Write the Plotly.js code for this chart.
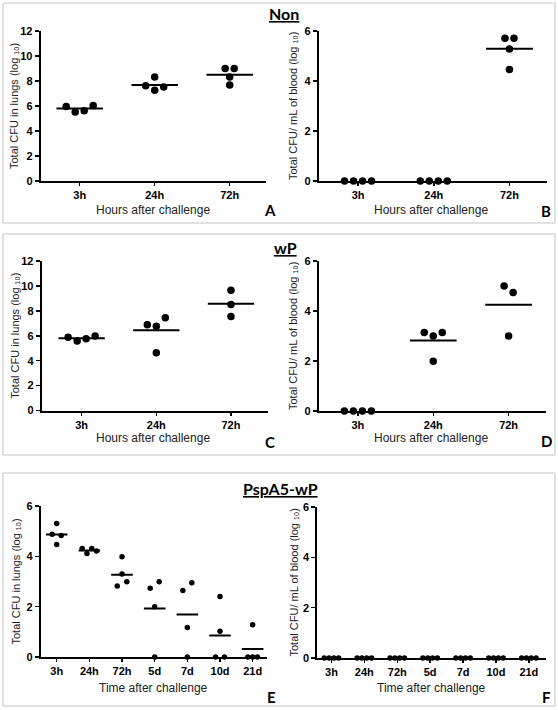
<!DOCTYPE html>
<html><head><meta charset="utf-8">
<script src="https://cdn.plot.ly/plotly-3.0.1.min.js"></script>
<style>html,body{margin:0;padding:0;background:#fff}#chart{width:558px;height:710px}</style>
</head><body><div id="chart"></div>
<script>
// ---------------- data ----------------
const hoursCats = ['3h', '24h', '72h'];
const timeCats = ['3h', '24h', '72h', '5d', '7d', '10d', '21d'];

const groupTitles = ['Non', 'wP', 'PspA5-wP'];
const panelLetters = ['A', 'B', 'C', 'D', 'E', 'F'];
const lungTitle = 'Total CFU in lungs (log \u2081\u2080)';
const bloodTitle = 'Total CFU/ mL of blood (log \u2081\u2080)';
const hoursTitle = 'Hours after challenge';
const timeTitle = 'Time after challenge';

// values per category (listed left to right as seen in each column)
const nonLungs = [[5.97, 5.52, 5.63, 6.05], [8.33, 7.63, 7.26, 7.53], [9.0, 9.0, 8.33, 7.69]];
const nonBlood = [[0, 0, 0, 0], [0, 0, 0, 0], [5.71, 5.71, 5.28, 4.46]];
const wpLungs = [[5.87, 5.57, 5.76, 5.97], [6.88, 6.77, 7.44, 4.64], [9.65, 8.51, 7.55]];
const wpBlood = [[0, 0, 0, 0], [3.14, 3.0, 3.14, 1.99], [5.0, 4.74, 3.0]];
const pspLungs = [[4.88, 5.30, 4.83, 4.47], [4.31, 4.11, 4.31, 4.21], [2.82, 3.98, 3.30, 2.99],
                  [2.73, 2.0, 0, 2.99], [2.64, 1.17, 0, 2.95], [0, 2.40, 1.02, 0], [0, 1.28, 0, 0]];
const pspBlood = [[0, 0, 0, 0], [0, 0, 0, 0], [0, 0, 0, 0], [0, 0, 0, 0], [0, 0, 0, 0], [0, 0, 0, 0], [0, 0, 0, 0]];

// ---------------- layout helpers ----------------
const W = 558, H = 710;
const fx = p => p / W;
const fy = p => 1 - p / H;

const bigStyle = {marker: 7.5, spacing: 9, compact: 9, maxSpan: 100, threshold: 7.5, half: 0.31};
const smallStyle = {marker: 5.5, spacing: 9, compact: 4.8, maxSpan: 10, threshold: 8.2, half: 0.33};

const panels = [
  {cats: hoursCats, vals: nonLungs, ymax: 12, xPx: [40.7, 265.7], yPx: [31, 181], xr: [-0.52, 2.48], yt: lungTitle, xt: hoursTitle, st: bigStyle, ytx: 14},
  {cats: hoursCats, vals: nonBlood, ymax: 6, xPx: [318.7, 547.3], yPx: [31, 181], xr: [-0.52, 2.5], yt: bloodTitle, xt: hoursTitle, st: bigStyle, ytx: 293},
  {cats: hoursCats, vals: wpLungs, ymax: 12, xPx: [41.7, 268.3], yPx: [261, 410.5], xr: [-0.535, 2.5], yt: lungTitle, xt: hoursTitle, st: bigStyle, ytx: 15},
  {cats: hoursCats, vals: wpBlood, ymax: 6, xPx: [318.7, 546.3], yPx: [261, 411], xr: [-0.52, 2.5], yt: bloodTitle, xt: hoursTitle, st: bigStyle, ytx: 293},
  {cats: timeCats, vals: pspLungs, ymax: 6, xPx: [40.7, 266.7], yPx: [506, 657], xr: [-0.49, 6.43], yt: lungTitle, xt: timeTitle, st: smallStyle, ytx: 15},
  {cats: timeCats, vals: pspBlood, ymax: 6, xPx: [317.3, 546.3], yPx: [507, 658], xr: [-0.43, 6.53], yt: bloodTitle, xt: timeTitle, st: smallStyle, ytx: 293}
];

function swarmOffsets(vals, pxPerUnit, pxPerCat, st) {
  const idx = vals.map((v, i) => i).sort((a, b) => (vals[b] - vals[a]) || (a - b));
  const groups = [];
  let cur = [];
  idx.forEach((i, k) => {
    if (k === 0) { cur = [i]; return; }
    const prev = idx[k - 1];
    if ((vals[prev] - vals[i]) * pxPerUnit <= st.threshold) cur.push(i);
    else { groups.push(cur); cur = [i]; }
  });
  if (cur.length) groups.push(cur);
  const off = new Array(vals.length).fill(0);
  groups.forEach(g => {
    g.sort((a, b) => a - b);
    const n = g.length;
    const sp = (n - 1) * st.spacing <= st.maxSpan ? st.spacing : st.compact;
    g.forEach((i, k) => { off[i] = (k - (n - 1) / 2) * sp / pxPerCat; });
  });
  return off;
}

const tickFont = {family: 'Liberation Sans, Arial, sans-serif', size: 11, color: '#000', weight: 'bold'};
const titleFont = {family: 'Liberation Sans, Arial, DejaVu Sans, sans-serif', size: 11, color: '#222'};
const xTitleFont = {family: 'Liberation Sans, Arial, sans-serif', size: 12, color: '#222'};

const traces = [];
const layout = {
  width: W, height: H, margin: {l: 0, r: 0, t: 0, b: 0},
  paper_bgcolor: '#fff', plot_bgcolor: 'rgba(0,0,0,0)', showlegend: false,
  annotations: [], shapes: []
};

panels.forEach((p, k) => {
  const n = k + 1;
  const xa = 'x' + (n > 1 ? n : ''), ya = 'y' + (n > 1 ? n : '');
  const xk = 'xaxis' + (n > 1 ? n : ''), yk = 'yaxis' + (n > 1 ? n : '');
  const pxPerCat = (p.xPx[1] - p.xPx[0]) / (p.xr[1] - p.xr[0]);
  const pxPerUnit = (p.yPx[1] - p.yPx[0]) / p.ymax;
  const xs = [], ys = [], lx = [], ly = [];
  p.vals.forEach((col, ci) => {
    const off = swarmOffsets(col, pxPerUnit, pxPerCat, p.st);
    col.forEach((v, j) => { xs.push(ci + off[j]); ys.push(v); });
    const m = col.reduce((a, b) => a + b, 0) / col.length;
    if (m > 0) {           // a zero mean lies under the axis line
      lx.push(ci - p.st.half, ci + p.st.half, null);
      ly.push(m, m, null);
    }
  });
  traces.push({type: 'scatter', mode: 'lines', x: lx, y: ly, xaxis: xa, yaxis: ya,
    line: {color: '#000', width: 2}, hoverinfo: 'skip', cliponaxis: false});
  traces.push({type: 'scatter', mode: 'markers', x: xs, y: ys, xaxis: xa, yaxis: ya,
    marker: {color: '#000', size: p.st.marker}, cliponaxis: false});

  layout[xk] = {
    domain: [fx(p.xPx[0]), fx(p.xPx[1])], range: p.xr, anchor: ya,
    tickmode: 'array', tickvals: p.cats.map((c, i) => i), ticktext: p.cats,
    showline: true, linecolor: '#000', linewidth: 2, ticks: 'outside', ticklen: 3, tickwidth: 1.5, tickcolor: '#000',
    showgrid: false, zeroline: false, tickfont: tickFont, fixedrange: true
  };
  layout[yk] = {
    domain: [fy(p.yPx[1]), fy(p.yPx[0])], range: [0, p.ymax], anchor: xa,
    tick0: 0, dtick: 2,
    showline: true, linecolor: '#000', linewidth: 2, ticks: 'outside', ticklen: 4, tickwidth: 1.5, tickcolor: '#000',
    showgrid: false, zeroline: false, tickfont: tickFont, fixedrange: true
  };
  layout.annotations.push({xref: 'paper', yref: 'paper', x: fx(p.ytx), y: fy((p.yPx[0] + p.yPx[1]) / 2),
    text: p.yt, textangle: -90, showarrow: false, xanchor: 'center', yanchor: 'middle', font: titleFont});
});

const xTitlePos = [[153, 210], [431, 210], [153, 438], [431, 438], [153, 688], [431, 688]];
xTitlePos.forEach((q, k) => layout.annotations.push({xref: 'paper', yref: 'paper', x: fx(q[0]), y: fy(q[1]),
  text: panels[k].xt, showarrow: false, xanchor: 'center', yanchor: 'middle', font: xTitleFont}));

const letterPos = [[270, 210], [546, 211], [270, 442], [546, 441], [271, 697], [546, 697]];
letterPos.forEach((q, k) => layout.annotations.push({xref: 'paper', yref: 'paper', x: fx(q[0]), y: fy(q[1]),
  text: panelLetters[k], showarrow: false, xanchor: 'center', yanchor: 'middle',
  font: {family: 'Lato, Liberation Sans, sans-serif', size: 15, color: '#000', weight: 'bold'}}));

const titlePos = [[284, 14], [285, 247], [280, 488]];
titlePos.forEach((q, k) => layout.annotations.push({xref: 'paper', yref: 'paper', x: fx(q[0]), y: fy(q[1]),
  text: '<u>' + groupTitles[k] + '</u>', showarrow: false, xanchor: 'center', yanchor: 'middle',
  font: {family: 'Lato, Liberation Sans, sans-serif', size: 16, color: '#000', weight: 'bold'}}));

const boxes = [[3, 555, 3, 223], [3, 555, 234, 455], [3, 555, 473, 706]];
boxes.forEach(b => layout.shapes.push({type: 'rect', xref: 'paper', yref: 'paper',
  x0: fx(b[0]), x1: fx(b[1]), y0: fy(b[3]), y1: fy(b[2]), line: {color: '#c4c4c4', width: 1}, layer: 'below'}));

Plotly.newPlot('chart', traces, layout, {displayModeBar: false, staticPlot: true});
</script>
</body></html>
